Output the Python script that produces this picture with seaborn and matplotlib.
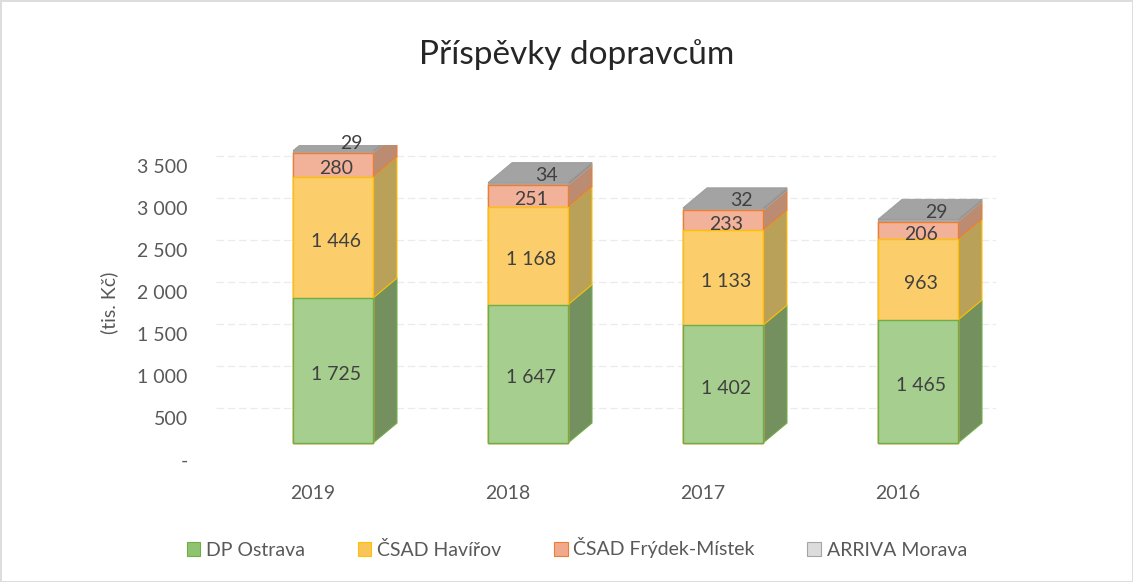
import numpy as np
import pandas as pd
import matplotlib
matplotlib.use('Agg')
import matplotlib.pyplot as plt
import seaborn as sns
from matplotlib.patches import Polygon, Patch

# data
years = ['2019', '2018', '2017', '2016']
carriers = ['DP Ostrava', 'ČSAD Havířov', 'ČSAD Frýdek-Místek', 'ARRIVA Morava']
dp_ostrava = [1725, 1647, 1402, 1465]
csad_havirov = [1446, 1168, 1133, 963]
csad_frydek = [280, 251, 233, 206]
arriva = [29, 34, 32, 29]
y_ticks = [0, 500, 1000, 1500, 2000, 2500, 3000, 3500]

# colours
front_colors = ['#a6cf8f', '#fbcd6b', '#f2b199', '#ababab']
side_colors = ['#74905f', '#b9a159', '#bb8b72', '#918a84']
edge_colors = ['#70ad47', '#ffc000', '#ed7d31', '#a5a5a5']
legend_colors = ['#8fc46f', '#f8c55a', '#f1a98c', '#dcdcdc']
top_color = '#a3a3a3'
text_color = '#595959'

sns.set_theme(style='white')
plt.rcParams['font.family'] = ['Lato', 'DejaVu Sans']

df = pd.DataFrame({'rok': years, carriers[0]: dp_ostrava, carriers[1]: csad_havirov,
                   carriers[2]: csad_frydek, carriers[3]: arriva})
values = df[carriers].to_numpy()
cum = values.cumsum(axis=1)

W, H = 1133, 582
fig = plt.figure(figsize=(W / 100, H / 100), dpi=100)
ax = fig.add_axes([215.5 / W, 122 / H, 780 / W, 315 / H])

# front faces: cumulative totals drawn from the top series down
groups = {}
for i in reversed(range(len(carriers))):
    n0 = len(ax.patches)
    sns.barplot(x=df['rok'], y=cum[:, i], order=years, color=front_colors[i], width=0.41,
                saturation=1, edgecolor=edge_colors[i], linewidth=1, ax=ax, zorder=3)
    groups[i] = ax.patches[n0:]

ax.set_xlim(-0.5, 3.5)
ax.set_ylim(0, 3750)

# pixel -> data conversions for the 3D look
p0 = ax.transData.transform((0, 0))
p1 = ax.transData.transform((1, 1))
px_x, px_y = p1[0] - p0[0], p1[1] - p0[1]
sx, sy = 20 / px_x, 17 / px_y
dx, dy = 24 / px_x, 20 / px_y

for i, patches in groups.items():
    for p in patches:
        p.set_x(p.get_x() + sx)
        p.set_y(sy)

# gridlines on back wall
ax.hlines([t + 10 / px_y for t in y_ticks[1:]], -0.5, 3.5 + 0.22, color='#ebebeb',
          lw=0.9, linestyles=(0, (6, 3)), zorder=0)

# side and top faces + labels
for j in range(len(years)):
    p = groups[0][j]
    xl = p.get_x()
    xr = xl + p.get_width()
    xc = (xl + xr) / 2
    for i in range(len(carriers)):
        lo = (cum[j, i - 1] if i > 0 else 0) + sy
        hi = cum[j, i] + sy
        ax.add_patch(Polygon([(xr, lo), (xr + dx, lo + dy), (xr + dx, hi + dy), (xr, hi)],
                             closed=True, facecolor=side_colors[i], edgecolor=edge_colors[i],
                             lw=0.8, zorder=2))
        lab = f'{values[j, i]:,}'.replace(',', ' ')
        if i == len(carriers) - 1:
            ax.text(xc + 18 / px_x, hi + 7 / px_y, lab, ha='center', va='center',
                    fontsize=14, color='#404040', zorder=6)
        else:
            ax.text(xc + 3 / px_x, (lo + hi) / 2 - 4 / px_y, lab, ha='center', va='center',
                    fontsize=14, color='#404040', zorder=6)
    top = cum[j, -1] + sy
    ax.add_patch(Polygon([(xl, top), (xr, top), (xr + dx, top + dy), (xl + dx, top + dy)],
                         closed=True, facecolor=top_color, edgecolor='#9a9a9a', lw=0.6, zorder=4))

# axes styling
ax.set_yticks(y_ticks)
ax.set_yticklabels(['-'] + [f'{t:,}'.replace(',', ' ') for t in y_ticks[1:]])
ax.tick_params(axis='y', length=0, pad=20, labelsize=14, labelcolor=text_color)
ax.tick_params(axis='x', length=0, pad=18, labelsize=14, labelcolor=text_color)
ax.set_xlabel('')
ax.set_ylabel('(tis. Kč)', fontsize=14, color=text_color, labelpad=14)
for s in ax.spines.values():
    s.set_visible(False)

fig.text(577 / W, 1 - 55 / H, 'Příspěvky dopravcům', ha='center', va='center',
         fontsize=24, color='#262626')

handles = [Patch(facecolor=legend_colors[i], edgecolor=edge_colors[i], lw=0.8, label=carriers[i])
           for i in range(len(carriers))]
fig.legend(handles=handles, loc='center', bbox_to_anchor=(577 / W, 1 - 548 / H), ncol=4,
           frameon=False, handlelength=0.7, handleheight=0.7, handletextpad=0.3,
           columnspacing=2.7, prop={'size': 14}, labelcolor=text_color)

fig.patch.set_edgecolor('#dddddd')
fig.patch.set_linewidth(1)

fig.savefig('out.png', dpi=100)
